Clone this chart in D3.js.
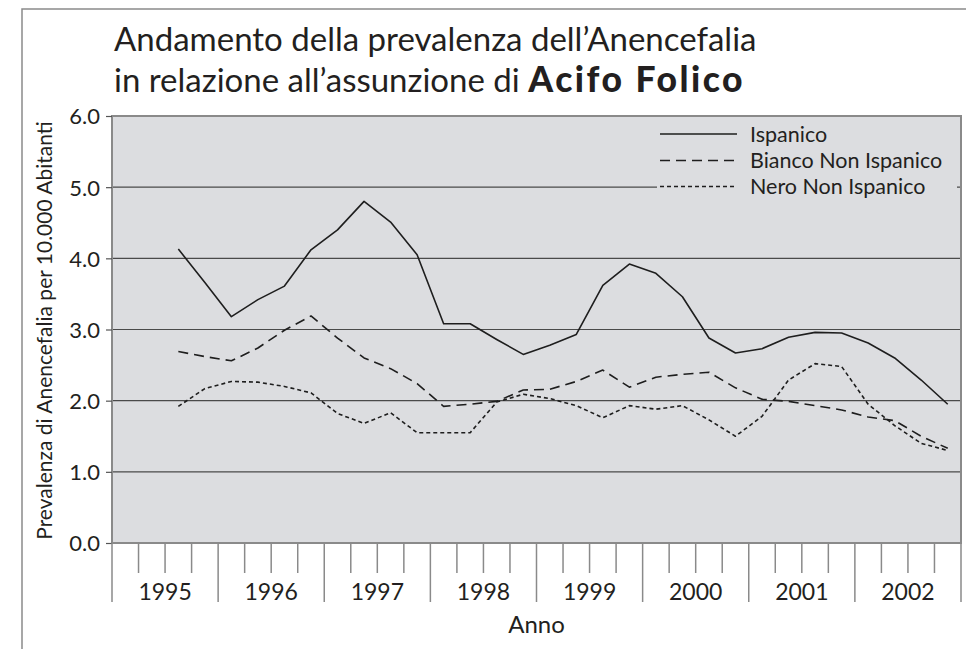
<!DOCTYPE html>
<html>
<head>
<meta charset="utf-8">
<script src="https://cdn.jsdelivr.net/npm/d3@7"></script>
<style>
  html, body { margin: 0; padding: 0; background: #fff; }
  svg { display: block; font-family: Lato, "Open Sans", sans-serif; }
</style>
</head>
<body>
<svg id="chart" width="966" height="649"></svg>
<script>
// ---------------- data ----------------
const years = ["1995", "1996", "1997", "1998", "1999", "2000", "2001", "2002"];
const quarterNames = ["Q1", "Q2", "Q3", "Q4"];
// observed quarters: 1995 Q3 .. 2002 Q4
const obsQuarters = [
  "1995-Q3","1995-Q4",
  "1996-Q1","1996-Q2","1996-Q3","1996-Q4",
  "1997-Q1","1997-Q2","1997-Q3","1997-Q4",
  "1998-Q1","1998-Q2","1998-Q3","1998-Q4",
  "1999-Q1","1999-Q2","1999-Q3","1999-Q4",
  "2000-Q1","2000-Q2","2000-Q3","2000-Q4",
  "2001-Q1","2001-Q2","2001-Q3","2001-Q4",
  "2002-Q1","2002-Q2","2002-Q3","2002-Q4"
];
const ispanico = [4.13, 3.66, 3.18, 3.42, 3.61, 4.12, 4.40, 4.80, 4.51, 4.05,
                  3.08, 3.08, 2.86, 2.65, 2.78, 2.93, 3.62, 3.92, 3.79, 3.46,
                  2.88, 2.67, 2.73, 2.89, 2.96, 2.95, 2.81, 2.60, 2.29, 1.95];
const biancoNonIspanico = [2.69, 2.62, 2.56, 2.74, 2.99, 3.19, 2.88, 2.60, 2.45, 2.24,
                           1.92, 1.95, 1.99, 2.15, 2.16, 2.27, 2.43, 2.19, 2.33, 2.37,
                           2.40, 2.18, 2.02, 1.99, 1.93, 1.87, 1.77, 1.72, 1.50, 1.33];
const neroNonIspanico = [1.92, 2.17, 2.27, 2.26, 2.20, 2.11, 1.82, 1.68, 1.83, 1.55,
                         1.55, 1.55, 1.98, 2.09, 2.03, 1.93, 1.76, 1.93, 1.88, 1.93,
                         1.73, 1.50, 1.78, 2.29, 2.52, 2.48, 1.95, 1.65, 1.40, 1.30];
const seriesNames = ["Ispanico", "Bianco Non Ispanico", "Nero Non Ispanico"];
const yTicks = [0, 1, 2, 3, 4, 5, 6];
const titleLine1 = "Andamento della prevalenza dell\u2019Anencefalia";
const titleLine2a = "in relazione all\u2019assunzione di ";
const titleLine2b = "Acifo Folico";
const yTitle = "Prevalenza di Anencefalia per 10.000 Abitanti";
const xTitle = "Anno";

// ---------------- layout ----------------
const svg = d3.select("#chart");
const plot = { left: 112, right: 961, top: 116, bottom: 543 };
const allQuarters = years.flatMap(y => quarterNames.map(q => y + "-" + q));

const x = d3.scaleBand().domain(allQuarters).range([plot.left, plot.right]).paddingInner(0).paddingOuter(0);
const xc = q => x(q) + x.bandwidth() / 2;
const y = d3.scaleLinear().domain([0, 6]).range([plot.bottom, plot.top]);

const textColor = "#231f20";
const lineColor = "#1e1e1e";
const bgColor = "#dcdde0";
const frameColor = "#8a8a8a";

// outer frame
svg.append("path")
  .attr("d", `M22,649 L22,9 L966,9`)
  .attr("fill", "none").attr("stroke", frameColor).attr("stroke-width", 1.5);

// plot background
svg.append("rect")
  .attr("x", plot.left).attr("y", plot.top)
  .attr("width", plot.right - plot.left).attr("height", plot.bottom - plot.top)
  .attr("fill", bgColor);

// gridlines
svg.append("g").selectAll("line")
  .data(yTicks.filter(t => t > 0 && t < 6))
  .join("line")
  .attr("x1", plot.left).attr("x2", plot.right)
  .attr("y1", d => y(d)).attr("y2", d => y(d))
  .attr("stroke", "#4a4a4a").attr("stroke-width", 1.2);

// legend background (covers gridline)
const legend = svg.append("g");
legend.append("rect")
  .attr("x", 657).attr("y", 120).attr("width", 300).attr("height", 80)
  .attr("fill", bgColor);

// plot border
svg.append("rect")
  .attr("x", plot.left).attr("y", plot.top)
  .attr("width", plot.right - plot.left).attr("height", plot.bottom - plot.top)
  .attr("fill", "none").attr("stroke", frameColor).attr("stroke-width", 2);

// y axis
const yAxis = d3.axisLeft(y).tickValues(yTicks).tickFormat(d3.format(".1f"))
  .tickSize(6).tickSizeOuter(0).tickPadding(6);
const gy = svg.append("g").attr("transform", `translate(${plot.left},0)`).call(yAxis);
gy.select(".domain").remove();
gy.selectAll(".tick line").attr("stroke", "#555").attr("stroke-width", 1.2);
gy.selectAll(".tick text").attr("font-size", 22).attr("fill", textColor)
  .attr("font-family", "Lato, sans-serif").attr("dy", "0.36em");

// x ticks: quarter boundaries
const boundaries = allQuarters.map(q => ({ pos: x(q), yearStart: q.endsWith("Q1") }))
  .concat([{ pos: x.range()[1], yearStart: true }]);
svg.append("g").selectAll("line")
  .data(boundaries)
  .join("line")
  .attr("x1", d => d.pos).attr("x2", d => d.pos)
  .attr("y1", plot.bottom)
  .attr("y2", d => d.yearStart ? 602 : 573)
  .attr("stroke", frameColor).attr("stroke-width", 1.5);

// year labels
svg.append("g").selectAll("text")
  .data(years)
  .join("text")
  .attr("x", d => (x(d + "-Q1") + x(d + "-Q4") + x.bandwidth()) / 2)
  .attr("y", 600)
  .attr("text-anchor", "middle")
  .attr("font-size", 23)
  .attr("fill", textColor)
  .text(d => d);

// axis titles
svg.append("text")
  .attr("x", (plot.left + plot.right) / 2).attr("y", 633)
  .attr("text-anchor", "middle").attr("font-size", 24).attr("fill", textColor)
  .text(xTitle);
svg.append("text")
  .attr("transform", `translate(52,${(plot.top + plot.bottom) / 2 + 1}) rotate(-90)`)
  .attr("text-anchor", "middle").attr("font-size", 21).attr("fill", textColor)
  .text(yTitle);

// title
const t1 = svg.append("text").attr("x", 114).attr("y", 51)
  .attr("font-size", 33).attr("fill", textColor).text(titleLine1);
const t2 = svg.append("text").attr("x", 114).attr("y", 92)
  .attr("font-size", 33).attr("fill", textColor);
t2.append("tspan").text(titleLine2a);
t2.append("tspan").attr("font-weight", 900).attr("font-size", 35.5)
  .attr("letter-spacing", 2.5).text(titleLine2b);

// lines
const series = [
  { name: seriesNames[0], values: ispanico, dash: null },
  { name: seriesNames[1], values: biancoNonIspanico, dash: "10,6" },
  { name: seriesNames[2], values: neroNonIspanico, dash: "4,3" }
];
const lineGen = d3.line()
  .x((d, i) => xc(obsQuarters[i]))
  .y(d => y(d));
svg.append("g").selectAll("path")
  .data(series)
  .join("path")
  .attr("d", d => lineGen(d.values))
  .attr("fill", "none")
  .attr("stroke", lineColor)
  .attr("stroke-width", 1.6)
  .attr("stroke-linejoin", "round")
  .attr("stroke-dasharray", d => d.dash);

// legend items
const legendRows = [134, 160.5, 186.5];
const items = legend.selectAll("g.item")
  .data(series)
  .join("g").attr("class", "item")
  .attr("transform", (d, i) => `translate(0,${legendRows[i]})`);
items.append("line")
  .attr("x1", 660).attr("x2", 737).attr("y1", 0).attr("y2", 0)
  .attr("stroke", lineColor).attr("stroke-width", 1.6)
  .attr("stroke-dasharray", d => d.dash);
items.append("text")
  .attr("x", 750).attr("y", 0).attr("dy", "0.35em")
  .attr("font-size", 21.5).attr("fill", textColor)
  .text(d => d.name);
</script>
</body>
</html>
